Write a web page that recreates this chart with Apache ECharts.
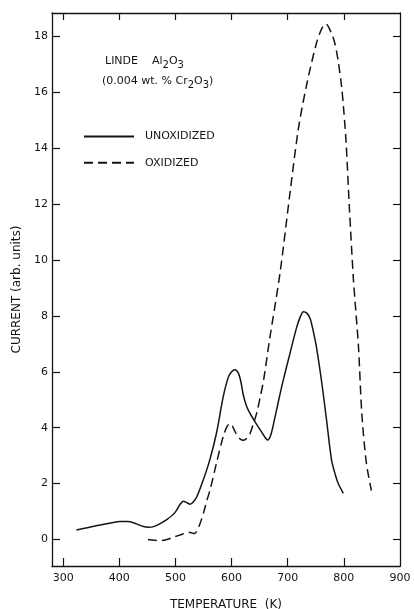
<!DOCTYPE html>
<html>
<head>
<meta charset="utf-8">
<script src="https://cdn.jsdelivr.net/npm/echarts@6/dist/echarts.min.js"></script>
<style>
  html, body { margin: 0; padding: 0; background: #ffffff; }
  #chart { width: 414px; height: 609px; }
</style>
</head>
<body>
<div id="chart"></div>
<script>
// Temperature axis ticks (K) and current axis ticks (arb. units)
const tempTicks = [300, 400, 500, 600, 700, 800, 900];
const currentTicks = [0, 2, 4, 6, 8, 10, 12, 14, 16, 18];

// Unoxidized sample: temperature (K)
const unoxTemp = [323.5, 345, 366, 385, 401, 415, 425, 435, 443, 452, 461, 472, 485, 499, 508, 514, 520, 526,
  532, 538, 549, 561, 573, 585, 594, 600, 606, 612, 617, 621, 627, 633, 642, 651, 658, 664, 670, 677, 684,
  692, 704, 716, 723, 728, 734, 740, 746, 751, 760, 769, 778, 785, 790, 799];
// Unoxidized sample: current (arb. units)
const unoxCurrent = [0.34, 0.43, 0.52, 0.59, 0.64, 0.64, 0.6, 0.52, 0.46, 0.44, 0.46, 0.56, 0.72, 0.96, 1.25,
  1.37, 1.32, 1.26, 1.35, 1.53, 2.1, 2.84, 3.8, 5.1, 5.8, 6.0, 6.07, 5.95, 5.6, 5.15, 4.75, 4.5, 4.2, 3.92,
  3.7, 3.56, 3.75, 4.35, 5.0, 5.7, 6.66, 7.6, 8.0, 8.15, 8.1, 7.9, 7.4, 6.9, 5.7, 4.3, 2.85, 2.3, 2.0, 1.65];

// Oxidized sample: temperature (K)
const oxTemp = [451, 462, 473, 485, 496, 508, 520, 527, 533, 538, 544, 550, 556, 562, 573, 585, 592, 598,
  604, 609, 615, 621, 627, 633, 639, 645, 651, 657, 668, 686, 704, 719, 734, 751, 761, 768, 776, 784, 790,
  796, 800, 804, 810, 817, 820, 826, 832, 840, 849];
// Oxidized sample: current (arb. units)
const oxCurrent = [0.0, -0.03, -0.04, 0.0, 0.08, 0.16, 0.24, 0.25, 0.21, 0.3, 0.58, 0.95, 1.4, 1.8, 2.73,
  3.68, 4.05, 4.15, 3.95, 3.75, 3.6, 3.55, 3.62, 3.8, 4.15, 4.55, 5.1, 5.7, 7.2, 9.5, 12.4, 14.7, 16.3,
  17.75, 18.3, 18.45, 18.2, 17.75, 17.1, 16.2, 15.3, 14.2, 11.8, 9.3, 8.5, 6.9, 4.5, 2.75, 1.75];

const pairs = (xs, ys) => xs.map((x, i) => [x, ys[i]]);

const INK = '#141414';
const FONT = 'DejaVu Sans';

const frameLine = { show: true, onZero: false, lineStyle: { color: INK, width: 1.3 } };

// rich-text styles: regular glyphs and lowered subscripts
const formulaRich = {
  a: { fontFamily: FONT, fontSize: 11, fill: INK, verticalAlign: 'top' },
  s: { fontFamily: FONT, fontSize: 10, fill: INK, verticalAlign: 'top', padding: [4, 0, 0, 0] }
};

const chart = echarts.init(document.getElementById('chart'), null, { renderer: 'canvas' });

chart.setOption({
  backgroundColor: '#ffffff',
  animation: false,
  grid: { left: 52, right: 14, top: 13, bottom: 43, containLabel: false, outerBoundsMode: 'none' },
  legend: {
    orient: 'vertical',
    left: 83,
    top: 131,
    padding: 0,
    itemWidth: 50,
    itemHeight: 14,
    itemGap: 15,
    // only the line sample is shown, the point marker stays invisible
    itemStyle: { color: 'rgba(0,0,0,0)', borderColor: 'rgba(0,0,0,0)', borderWidth: 0 },
    textStyle: { color: INK, fontFamily: FONT, fontSize: 11, padding: [0, 0, 0, 6] },
    data: ['UNOXIDIZED', 'OXIDIZED']
  },
  graphic: [
    {
      type: 'text',
      left: 105,
      top: 56,
      style: { text: '{a|LINDE    Al}{s|2}{a|O}{s|3}', rich: formulaRich }
    },
    {
      type: 'text',
      left: 102,
      top: 76,
      style: { text: '{a|(0.004 wt. % Cr}{s|2}{a|O}{s|3}{a|)}', rich: formulaRich }
    }
  ],
  xAxis: [
    {
      type: 'value',
      position: 'bottom',
      min: 280,
      max: 900,
      name: 'TEMPERATURE  (K)',
      nameLocation: 'middle',
      nameGap: 33,
      nameTextStyle: { color: INK, fontFamily: FONT, fontSize: 12 },
      axisLine: frameLine,
      axisTick: { show: true, inside: true, length: 8, customValues: tempTicks.slice(0, 6), lineStyle: { color: INK, width: 1.2 } },
      axisLabel: { show: true, customValues: tempTicks, margin: 7, color: INK, fontFamily: FONT, fontSize: 11 },
      splitLine: { show: false }
    },
    {
      type: 'value',
      position: 'top',
      min: 280,
      max: 900,
      axisLine: frameLine,
      axisTick: { show: true, inside: true, length: 7, customValues: tempTicks.slice(0, 6), lineStyle: { color: INK, width: 1.2 } },
      axisLabel: { show: false },
      splitLine: { show: false }
    }
  ],
  yAxis: [
    {
      type: 'value',
      position: 'left',
      min: -0.95,
      max: 18.84,
      name: 'CURRENT (arb. units)',
      nameLocation: 'middle',
      nameGap: 24,
      nameRotate: 90,
      nameTextStyle: { color: INK, fontFamily: FONT, fontSize: 12 },
      axisLine: frameLine,
      axisTick: { show: true, inside: true, length: 8, customValues: currentTicks, lineStyle: { color: INK, width: 1.2 } },
      axisLabel: { show: true, customValues: currentTicks, margin: 4, color: INK, fontFamily: FONT, fontSize: 11 },
      splitLine: { show: false }
    },
    {
      type: 'value',
      position: 'right',
      min: -0.95,
      max: 18.84,
      axisLine: frameLine,
      axisTick: { show: true, inside: true, length: 7, customValues: currentTicks, lineStyle: { color: INK, width: 1.2 } },
      axisLabel: { show: false },
      splitLine: { show: false }
    }
  ],
  series: [
    {
      name: 'UNOXIDIZED',
      type: 'line',
      xAxisIndex: 0,
      yAxisIndex: 0,
      data: pairs(unoxTemp, unoxCurrent),
      smooth: 0.3,
      symbol: 'none',
      showSymbol: false,
      lineStyle: { color: INK, width: 1.5, type: 'solid' },
      itemStyle: { color: INK }
    },
    {
      name: 'OXIDIZED',
      type: 'line',
      xAxisIndex: 0,
      yAxisIndex: 0,
      data: pairs(oxTemp, oxCurrent),
      smooth: 0.3,
      symbol: 'none',
      showSymbol: false,
      lineStyle: { color: INK, width: 1.5, type: [9, 5] },
      itemStyle: { color: INK }
    }
  ]
});
</script>
</body>
</html>
